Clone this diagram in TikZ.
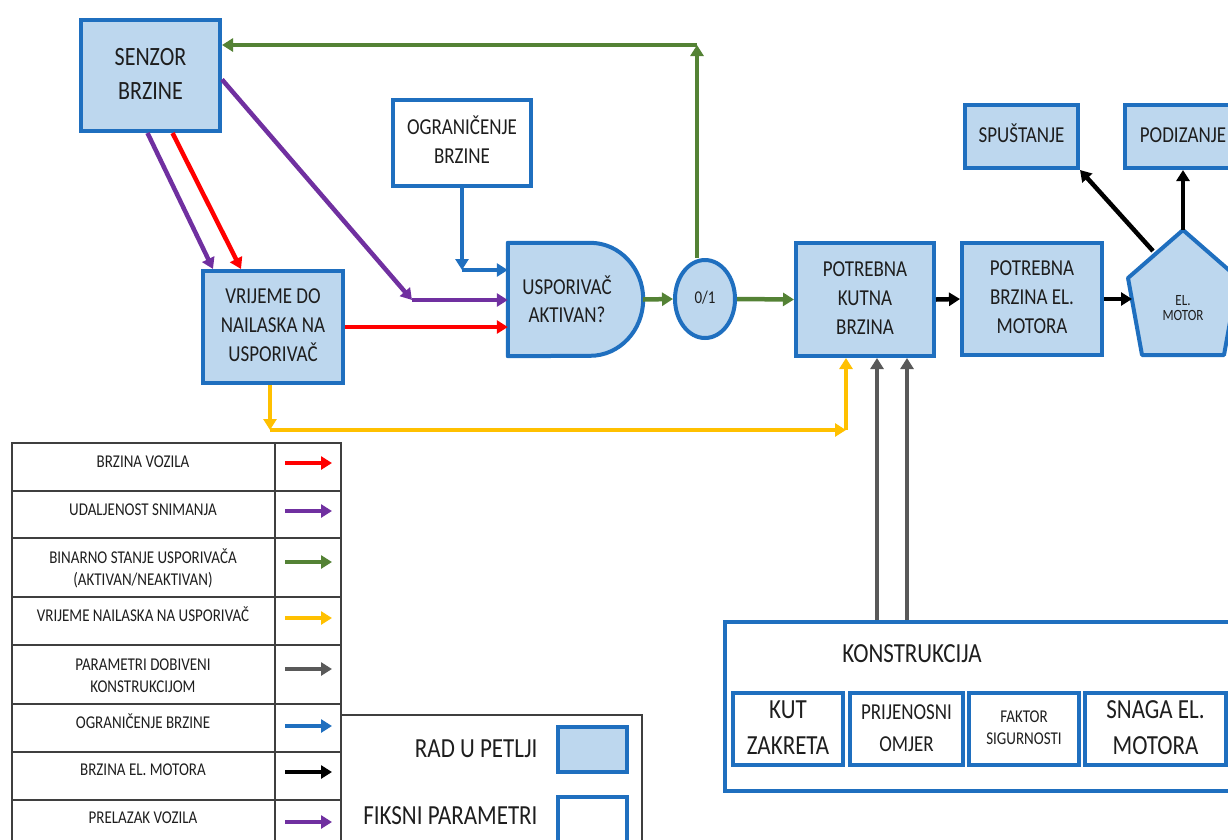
\documentclass[tikz,border=0pt]{standalone}
\usepackage{fontspec}
\usepackage{graphicx}
\setmainfont{Carlito}
\usetikzlibrary{arrows.meta,shapes.geometric}

\definecolor{plava}{HTML}{1F6FBF}
\definecolor{svijetla}{HTML}{BDD7EE}
\definecolor{crvena}{HTML}{FF0000}
\definecolor{ljubicasta}{HTML}{7030A0}
\definecolor{zelena}{HTML}{548235}
\definecolor{zuta}{HTML}{FFC000}
\definecolor{siva}{HTML}{595959}
\definecolor{tekst}{HTML}{1E1E1E}
\definecolor{crta}{HTML}{3F3F3F}
\newcommand{\vel}[2]{\fontsize{#1}{#2}\selectfont}
% tekst malo izduzen po visini, kao na slici
\newcommand{\tx}[1]{\scalebox{1}[1.2]{\begin{tabular}{@{}c@{}}#1\end{tabular}}}

\begin{document}
\begin{tikzpicture}[x=1pt,y=-1pt,
		petlja/.style={draw=plava,line width=4pt,fill=svijetla,align=center,text=tekst,inner sep=0pt,font=\vel{19}{24}},
		fiks/.style={petlja,fill=white},
		oblik/.style={draw=plava,line width=4pt,fill=svijetla,line join=round},
		str/.style={line width=4.5pt,-{Triangle[length=11pt,width=13pt]}},
		tablica/.style={draw=crta,line width=1.5pt},
		leg/.style={align=center,text=tekst,font=\vel{15}{19}}]
		\useasboundingbox (0,0) rectangle (1228,839);
		\clip (0,0) rectangle (1228,839);
		
		% blokovi u petlji
		\node[petlja,minimum width=139pt,minimum height=111pt,font=\vel{22}{28}] (senzor) at (150.5,75.5) {\tx{SENZOR\\BRZINE}};
		\node[fiks,minimum width=138pt,minimum height=86pt] (ogran) at (462,143) {\tx{OGRANIČENJE\\BRZINE}};
		\node[petlja,minimum width=140pt,minimum height=112pt] (vrijeme) at (273,327) {\tx{VRIJEME DO\\NAILASKA NA\\USPORIVAČ}};
		\node[minimum width=135pt,minimum height=113pt,inner sep=0pt] (gate) at (575.5,299.5) {};
		\draw[oblik] (gate.north west) -- ([xshift=-53pt]gate.north east)
			arc[start angle=-90,end angle=90,x radius=53,y radius=56.5] -- (gate.south west) -- cycle;
		\node[text=tekst,font=\vel{19}{23}] (gatetxt) at (567,303) {\tx{USPORIVAČ\\AKTIVAN?}};
		\node[petlja,ellipse,minimum width=60pt,minimum height=78pt,font=\vel{15}{18}] (krug) at (705,299) {\tx{0/1}};
		\node[petlja,minimum width=138pt,minimum height=113pt] (kutna) at (865,299.5) {\tx{POTREBNA\\KUTNA\\BRZINA}};
		\node[petlja,minimum width=140pt,minimum height=112pt] (brzmot) at (1032,299) {\tx{POTREBNA\\BRZINA EL.\\MOTORA}};
		\node[petlja,minimum width=113pt,minimum height=63pt] (spust) at (1021.5,136.5) {\tx{SPUŠTANJE}};
		\node[petlja,minimum width=116pt,minimum height=63pt] (podiz) at (1183,136.5) {\tx{PODIZANJE}};
		
		% elektromotor
		\coordinate (mT) at (1183,230);
		\coordinate (mL) at (1132,299);
		\coordinate (mS) at (1153,251);
		\draw[oblik] (mT) -- (1128,278) -- (1142,355) -- (1224,355) -- (1238,278) -- cycle;
		\node[text=tekst,font=\vel{13}{13}] (motor) at (1183,310) {\tx{EL.\\MOTOR}};
		
		% konstrukcija
		\node[fiks,minimum width=515pt,minimum height=169pt] (konstr) at (982.5,706.5) {};
		\node[text=tekst,font=\vel{23}{28}] (konstrtxt) at (912,656) {\tx{KONSTRUKCIJA}};
		\node[fiks,minimum width=110pt,minimum height=72pt,font=\vel{23}{30}] (kut) at (788,729) {\tx{KUT\\ZAKRETA}};
		\node[fiks,minimum width=113pt,minimum height=72pt,font=\vel{19}{27}] (prijen) at (906.5,729) {\tx{PRIJENOSNI\\OMJER}};
		\node[fiks,minimum width=110pt,minimum height=72pt,font=\vel{15}{19}] (faktor) at (1024,729) {\tx{FAKTOR\\SIGURNOSTI}};
		\node[fiks,minimum width=141pt,minimum height=72pt,font=\vel{23}{30}] (snaga) at (1155.5,729) {\tx{SNAGA EL.\\MOTORA}};
		
		% veze
		\draw[str,ljubicasta] ([xshift=-3pt]senzor.south) -- ([xshift=-60pt]vrijeme.north);
		\draw[str,crvena] ([xshift=22pt]senzor.south) -- ([xshift=-32pt]vrijeme.north);
		\coordinate (kB) at (412,300);
		\draw[str,ljubicasta] ([yshift=-4pt]senzor.east) -- (kB);
		\draw[str,ljubicasta] (kB) -- (kB -| gate.west);
		\coordinate (kA) at (462,270);
		\draw[str,plava] (ogran.south) -- (kA);
		\draw[str,plava] (kA) -- (kA -| gate.west);
		\draw[str,crvena] (vrijeme.east) -- (vrijeme.east -| gate.west);
		\draw[str,zelena] (gate.east) -- (krug.west);
		\draw[str,zelena] (krug.east) -- (kutna.west);
		\coordinate (kZ) at (697,45);
		\draw[str,zelena] (krug.north -| kZ) -- (kZ);
		\draw[str,zelena] (kZ) -- (kZ -| senzor.east);
		\coordinate (kY) at (846,430);
		\draw[str,zuta] ([xshift=-3pt]vrijeme.south) -- ([xshift=-3pt]vrijeme.south |- kY);
		\draw[str,zuta] ([xshift=-3pt]vrijeme.south |- kY) -- (kY);
		\draw[str,zuta] (kY) -- (kY |- kutna.south);
		\draw[str,siva,line width=4pt] ([xshift=12pt]kutna.south |- konstr.north) -- ([xshift=12pt]kutna.south);
		\draw[str,siva,line width=4pt] ([xshift=42pt]kutna.south |- konstr.north) -- ([xshift=42pt]kutna.south);
		\draw[str] (kutna.east) -- (brzmot.west);
		\draw[str] (brzmot.east) -- (mL);
		\draw[str] (mS) -- (spust.south east);
		\draw[str] (mT) -- (podiz.south);
		
		% legenda
		\draw[tablica] (12,443) rectangle (341,860);
		\draw[tablica] (275,443) -- (275,860);
		\foreach \y in {491,538,597,645,704,752,800}
			\draw[tablica] (12,\y) -- (341,\y);
		\foreach \i/\yt/\ya/\boja/\txt in {
			1/463/463/crvena/{BRZINA VOZILA},
			2/511/511/ljubicasta/{UDALJENOST SNIMANJA},
			3/570/562/zelena/{BINARNO STANJE USPORIVAČA\\(AKTIVAN/NEAKTIVAN)},
			4/617/618/zuta/{VRIJEME NAILASKA NA USPORIVAČ},
			5/677/669/siva/{PARAMETRI DOBIVENI\\KONSTRUKCIJOM},
			6/724/726/plava/{OGRANIČENJE BRZINE},
			7/771/772/black/{BRZINA EL. MOTORA},
			8/819/822/ljubicasta/{PRELAZAK VOZILA}}{
			\node[leg] (l\i) at (143,\yt) {\tx{\txt}};
			\coordinate (la\i) at (285,\ya);
			\coordinate (lb\i) at (332,\ya);
			\draw[str,\boja,line width=4pt] (la\i) -- (lb\i);
		}
		\draw[tablica] (341,715) -- (642,715) -- (642,860);
		\node[anchor=east,text=tekst,font=\vel{23}{28}] (radtxt) at (541,751) {\tx{RAD U PETLJI}};
		\node[petlja,minimum width=69pt,minimum height=45pt] (rad) at (592.5,749.5) {};
		\node[anchor=east,text=tekst,font=\vel{23}{28}] (fikstxt) at (541,818) {\tx{FIKSNI PARAMETRI}};
		\node[fiks,minimum width=69pt,minimum height=45pt] (fiksbox) at (592.5,819.5) {};
	\end{tikzpicture}
\end{document}
